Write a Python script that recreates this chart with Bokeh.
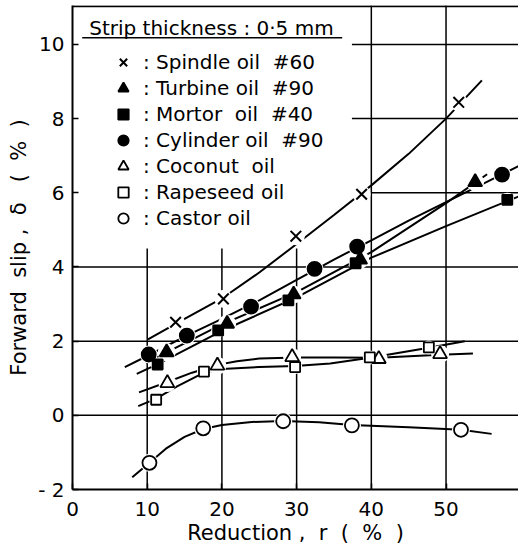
from bokeh.plotting import figure
from bokeh.models import Range1d, FixedTicker, Span, Label, Legend, LegendItem
from bokeh.embed import file_html
from bokeh.resources import INLINE

FONT = "DejaVu Sans"
NB = "\u00a0"

# Axis ticks
x_ticks = [0, 10, 20, 30, 40, 50]
y_ticks = [-2, 0, 2, 4, 6, 8, 10]

# Measured points: reduction r (%) vs forward slip (%)
spindle_r = [13.8, 20.2, 29.9, 38.7, 51.7]
spindle_s = [2.51, 3.14, 4.83, 5.96, 8.44]
turbine_r = [12.6, 20.7, 29.6, 38.5, 53.9]
turbine_s = [1.70, 2.47, 3.26, 4.20, 6.29]
mortor_r = [11.4, 19.5, 28.9, 37.9, 58.2]
mortor_s = [1.37, 2.29, 3.10, 4.10, 5.81]
cylinder_r = [10.2, 15.3, 23.9, 32.4, 38.1, 57.5]
cylinder_s = [1.64, 2.15, 2.93, 3.95, 4.55, 6.49]
coconut_r = [12.7, 19.4, 29.4, 41.0, 49.2]
coconut_s = [0.87, 1.34, 1.57, 1.52, 1.65]
rapeseed_r = [11.2, 17.6, 29.8, 39.8, 47.7]
rapeseed_s = [0.42, 1.18, 1.30, 1.56, 1.83]
castor_r = [10.3, 17.5, 28.2, 37.4, 52.0]
castor_s = [-1.28, -0.35, -0.16, -0.27, -0.39]

# Hand-faired curves through each series
spindle_cr = [10.1, 15, 20, 25, 30, 35, 40, 45, 50, 54.8]
spindle_cs = [2.05, 2.6, 3.15, 3.85, 4.62, 5.4, 6.2, 7.05, 8.0, 9.03]
cylinder_cr = [7.0, 10.2, 15, 20, 25, 30, 35, 40, 45, 50, 55, 59.7]
cylinder_cs = [1.30, 1.62, 2.12, 2.6, 3.1, 3.65, 4.2, 4.72, 5.25, 5.75, 6.25, 6.72]
turbine_cr = [9.8, 12.6, 20, 30, 40, 50, 55.5]
turbine_cs = [1.42, 1.70, 2.45, 3.32, 4.40, 5.72, 6.5]
mortor_cr = [8.6, 11.4, 20, 30, 40, 50, 59.7]
mortor_cs = [1.12, 1.38, 2.28, 3.18, 4.25, 5.1, 5.9]
coconut_cr = [8.9, 12.7, 16, 19.4, 22, 25, 30, 35, 41, 49.2, 53.6]
coconut_cs = [0.62, 0.9, 1.15, 1.36, 1.46, 1.53, 1.56, 1.56, 1.55, 1.63, 1.67]
rapeseed_cr = [8.8, 11.2, 14, 17.6, 20, 25, 29.8, 34.5, 39.8, 47.7, 52.5]
rapeseed_cs = [0.25, 0.45, 0.78, 1.15, 1.25, 1.3, 1.33, 1.4, 1.55, 1.82, 2.0]
castor_cr = [8.0, 10.3, 12.5, 15, 17.5, 20, 24, 28.2, 33, 37.4, 45, 52, 56.1]
castor_cs = [-1.67, -1.28, -0.9, -0.58, -0.37, -0.26, -0.18, -0.15, -0.19, -0.26, -0.32, -0.39, -0.5]

X_END = 59.7
Y_END = 11.05

p = figure(width=518, height=553, output_backend="svg", toolbar_location=None,
           x_range=Range1d(0, X_END), y_range=Range1d(-2, Y_END),
           min_border_left=72, min_border_right=0, min_border_top=5,
           min_border_bottom=64)
p.outline_line_color = None
p.grid.visible = False
p.background_fill_color = "white"

# Grid: left part of the upper rows is kept clear for the key
v_grid_x0 = [10, 20, 30, 40, 50]
v_grid_y1 = [4.5, 4.5, 4.5, Y_END, Y_END]
p.segment(x0=v_grid_x0, y0=[-2] * 5, x1=v_grid_x0, y1=v_grid_y1,
          line_color="black", line_width=1.5)
h_grid_y = [0, 2, 4, 6, 8, 10]
h_grid_x0 = [0, 0, 0, 40, 37.4, 37.4]
p.segment(x0=h_grid_x0, y0=h_grid_y, x1=[X_END] * 6, y1=h_grid_y,
          line_color="black", line_width=1.5)
p.add_layout(Span(location=Y_END - 0.02, dimension="width",
                  line_color="black", line_width=2))

# Curves
for cr, cs in [(spindle_cr, spindle_cs), (cylinder_cr, cylinder_cs),
               (turbine_cr, turbine_cs), (mortor_cr, mortor_cs),
               (coconut_cr, coconut_cs), (rapeseed_cr, rapeseed_cs),
               (castor_cr, castor_cs)]:
    p.line(cr, cs, line_color="black", line_width=2)

series = [
    (spindle_r, spindle_s, "x", 15, "white", ": Spindle oil  #60"),
    (turbine_r, turbine_s, "triangle", 14, "black", ": Turbine oil  #90"),
    (mortor_r, mortor_s, "square", 10, "black", ": Mortor  oil  #40"),
    (cylinder_r, cylinder_s, "circle", 14, "black", ": Cylinder oil  #90"),
    (coconut_r, coconut_s, "triangle", 14, "white", ": Coconut  oil"),
    (rapeseed_r, rapeseed_s, "square", 10, "white", ": Rapeseed oil"),
    (castor_r, castor_s, "circle", 14, "white", ": Castor oil"),
]

# White halos break the curves around each point
for r, s, mk, size, fill, lab in series:
    p.scatter(r, s, marker="circle", size=min(size, 14) + 4,
              fill_color="white", line_color=None)

items = []
for r, s, mk, size, fill, lab in series:
    rend = p.scatter(r, s, marker=mk, size=size, fill_color=fill,
                     line_color="black", line_width=2 if mk == "x" else 1.8)
    items.append(LegendItem(label=lab, renderers=[rend]))

legend = Legend(items=items, location=(36, 258), orientation="vertical",
                background_fill_alpha=0, border_line_color=None,
                label_text_font=FONT, label_text_font_size="20px",
                label_text_color="black", glyph_width=30, glyph_height=26,
                label_height=20, label_standoff=5, spacing=0, padding=0,
                margin=0)
p.add_layout(legend)

p.add_layout(Label(x=2.24, y=10.43, text="Strip thickness : 0·5 mm",
                   text_font=FONT, text_font_size="20px",
                   text_color="black", text_baseline="middle"))
p.segment(x0=[1.3], y0=[10.18], x1=[36.1], y1=[10.18],
          line_color="black", line_width=1.5)

# Axes
for ax in (p.xaxis[0], p.yaxis[0]):
    ax.axis_line_width = 2
    ax.axis_line_color = "black"
    ax.major_tick_in = 6
    ax.major_tick_out = 0
    ax.minor_tick_in = 0
    ax.minor_tick_out = 0
    ax.major_tick_line_width = 1.5
    ax.major_tick_line_color = "black"
    ax.major_label_text_font = FONT
    ax.major_label_text_font_size = "20px"
    ax.major_label_text_color = "black"
    ax.axis_label_text_font = FONT
    ax.axis_label_text_font_size = "21px"
    ax.axis_label_text_font_style = "normal"
    ax.axis_label_text_color = "black"

p.xaxis.ticker = FixedTicker(ticks=x_ticks)
p.yaxis.ticker = FixedTicker(ticks=y_ticks)
p.yaxis.major_label_overrides = {-2: "- 2"}
p.xaxis.axis_label = f"Reduction{NB},{NB}{NB}r{NB}{NB}({NB}{NB}%{NB}{NB})"
p.yaxis.axis_label = f"Forward{NB}{NB}slip{NB},{NB}{NB}δ{NB}{NB}{NB}({NB}{NB}%{NB}{NB})"
p.xaxis.major_label_standoff = 12
p.yaxis.major_label_standoff = 8
p.xaxis.axis_label_standoff = 2
p.yaxis.axis_label_standoff = 4

open("out.html", "w").write(file_html(p, INLINE))
